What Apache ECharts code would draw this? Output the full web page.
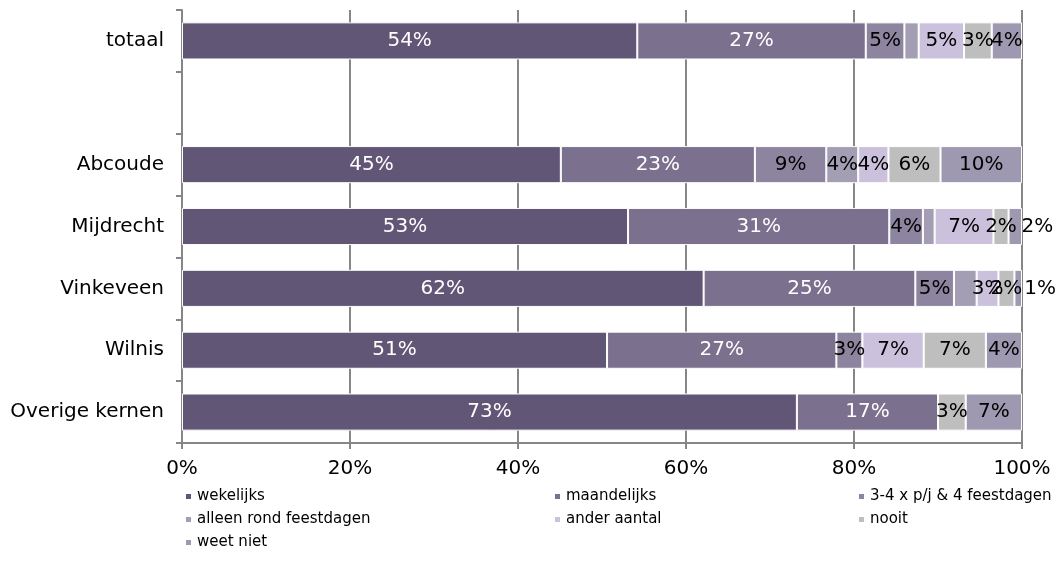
<!DOCTYPE html>
<html>
<head>
<meta charset="utf-8">
<script src="https://cdn.jsdelivr.net/npm/echarts@6/dist/echarts.min.js"></script>
<style>
  html, body { margin: 0; padding: 0; background: #fff; }
  #chart { width: 1061px; height: 561px; }
</style>
</head>
<body>
<div id="chart"></div>
<script>
// kernen (lege regel tussen totaal en de kernen)
var kernen = ['totaal', '', 'Abcoude', 'Mijdrecht', 'Vinkeveen', 'Wilnis', 'Overige kernen'];
var reeksen = ['wekelijks', 'maandelijks', '3-4 x p/j & 4 feestdagen', 'alleen rond feestdagen', 'ander aantal', 'nooit', 'weet niet'];

// percentages per reeks, zelfde volgorde als kernen
var wekelijks   = [54.2, '-', 45.1, 53.1, 62.1, 50.6, 73.2];
var maandelijks = [27.2, '-', 23.1, 31.1, 25.2, 27.3, 16.8];
var feestdagen4 = [4.6,  '-', 8.5,  4.0,  4.6,  3.1,  0];
var alleenRond  = [1.7,  '-', 3.8,  1.4,  2.7,  0,    0];
var anderAantal = [5.4,  '-', 3.6,  7.0,  2.6,  7.3,  0];
var nooit       = [3.3,  '-', 6.2,  1.8,  1.9,  7.4,  3.3];
var weetNiet    = [3.6,  '-', 9.7,  1.6,  0.9,  4.3,  6.7];

var xTicks = [0, 20, 40, 60, 80, 100];

var kleuren = ['#625677', '#7b708e', '#8d849f', '#a39eb3', '#cbc1dd', '#bebebe', '#9e98b0'];
var font = '"DejaVu Sans", Verdana, sans-serif';

// labels die in het origineel weggelaten zijn (reeks-index, kern-index)
var verborgen = ['3-0', '3-3', '3-4'];
// labels die iets naar rechts verschoven staan
var verschoven = ['6-3', '6-4'];

var alleData = [wekelijks, maandelijks, feestdagen4, alleenRond, anderAantal, nooit, weetNiet];

var series = alleData.map(function (waarden, s) {
    return {
        name: reeksen[s],
        type: 'bar',
        stack: 'totaal',
        barWidth: '60%',
        itemStyle: { color: kleuren[s], borderColor: '#fff', borderWidth: 1 },
        label: {
            show: true,
            position: 'inside',
            fontFamily: font,
            fontSize: 20,
            color: s < 2 ? '#fff' : '#000',
            formatter: function (p) {
                if (!p.value || verborgen.indexOf(s + '-' + p.dataIndex) >= 0) return '';
                return Math.round(p.value) + '%';
            }
        },
        data: waarden.map(function (v, i) {
            if (verschoven.indexOf(s + '-' + i) >= 0) {
                return { value: v, label: { offset: [22, 0] } };
            }
            return v;
        })
    };
});

var chart = echarts.init(document.getElementById('chart'));
chart.setOption({
    animation: false,
    textStyle: { fontFamily: font },
    grid: { left: 182, right: 39, top: 10, bottom: 118 },
    xAxis: {
        type: 'value',
        min: xTicks[0],
        max: xTicks[xTicks.length - 1],
        interval: 20,
        axisLine: { show: true, lineStyle: { color: '#868686', width: 2 } },
        axisTick: { show: true, length: 6, lineStyle: { color: '#868686', width: 2 } },
        axisLabel: { color: '#000', fontSize: 20, margin: 16, fontFamily: font, formatter: '{value}%' },
        splitLine: { show: true, lineStyle: { color: '#868686', width: 2 } }
    },
    yAxis: {
        type: 'category',
        inverse: true,
        data: kernen,
        axisLine: { show: true, lineStyle: { color: '#868686', width: 2 } },
        axisTick: { show: true, length: 6, lineStyle: { color: '#868686', width: 2 } },
        axisLabel: { color: '#000', fontSize: 20, margin: 18, fontFamily: font }
    },
    legend: [
        { data: [reeksen[0], reeksen[3], reeksen[6]], left: 184, top: 488 },
        { data: [reeksen[1], reeksen[4]], left: 553, top: 488 },
        { data: [reeksen[2], reeksen[5]], left: 857, top: 488 }
    ].map(function (l) {
        l.orient = 'vertical';
        l.icon = 'rect';
        l.itemWidth = 7;
        l.itemHeight = 7;
        l.itemGap = 6;
        l.padding = 0;
        l.textStyle = { color: '#000', fontSize: 15, lineHeight: 17, fontFamily: font };
        return l;
    }),
    series: series
});
</script>
</body>
</html>
